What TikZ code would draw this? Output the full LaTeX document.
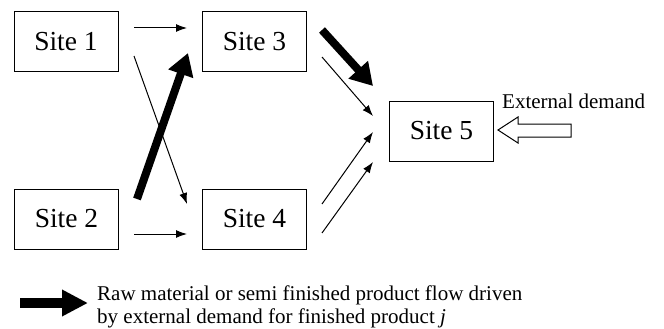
\documentclass[tikz,border=0pt]{standalone}
\usepackage{fontspec}
\setmainfont{Liberation Serif}
\newfontfamily\timesfam{Liberation Serif}
\usetikzlibrary{arrows.meta,calc}
\tikzset{
  site/.style={draw, line width=1pt, minimum width=104pt, minimum height=60pt,
               inner sep=0pt, font=\timesfam\fontsize{27.5}{31}\selectfont},
  thinflow/.style={line width=1pt, -{Latex[length=11pt,width=8pt]}},
  thickflow/.style={line width=8pt, -{Triangle[length=22pt,width=25pt]}},
  legendflow/.style={line width=10.5pt, -{Triangle[length=26pt,width=25pt]}},
  note/.style={inner sep=0pt, font=\timesfam\fontsize{21}{23}\selectfont}
}
\begin{document}
\begin{tikzpicture}[x=1pt,y=-1pt]
\useasboundingbox (0,0) rectangle (664,329);

% sites
\node[site] (s1) at (66,42)    {Site 1};
\node[site] (s3) at (254.5,42) {Site 3};
\node[site] (s2) at (66.5,219) {Site 2};
\node[site] (s4) at (254.5,219){Site 4};
\node[site] (s5) at (441.5,131){Site 5};

% flow end points
\coordinate (a13) at (134,28);   \coordinate (b13) at (187,28);
\coordinate (a14) at (134,56);   \coordinate (b14) at (187,204);
\coordinate (a23) at (137,199);  \coordinate (b23) at (188,53);
\coordinate (a24) at (134,234);  \coordinate (b24) at (187,234);
\coordinate (a35) at (322,30);   \coordinate (b35) at (373,86);
\coordinate (c35) at (322,57);   \coordinate (d35) at (373,116);
\coordinate (a45) at (322,204);  \coordinate (b45) at (373,132);
\coordinate (c45) at (322,233);  \coordinate (d45) at (373,162);

% flows between sites
\draw[thinflow]  (a13) -- (b13);
\draw[thinflow]  (a14) -- (b14);
\draw[thickflow] (a23) -- (b23);
\draw[thinflow]  (a24) -- (b24);
\draw[thickflow] (a35) -- (b35);
\draw[thinflow]  (c35) -- (d35);
\draw[thinflow]  (a45) -- (b45);
\draw[thinflow]  (c45) -- (d45);

% external demand
\node[note, anchor=base west] (ext) at (502,108) {External demand};
\draw[line width=1pt, line join=miter]
  (498,130) -- (518,117) -- (518,124) -- (571,124) -- (571,137)
  -- (518,137) -- (518,143) -- cycle;

% legend
\coordinate (la) at (20,303);
\coordinate (lb) at (88,303);
\draw[legendflow] (la) -- (lb);
\node[note, anchor=base west, align=left] (leg) at (97,323)
  {Raw material or semi finished product flow driven\\
   by external demand for finished product \textit{j}};
\end{tikzpicture}
\end{document}
